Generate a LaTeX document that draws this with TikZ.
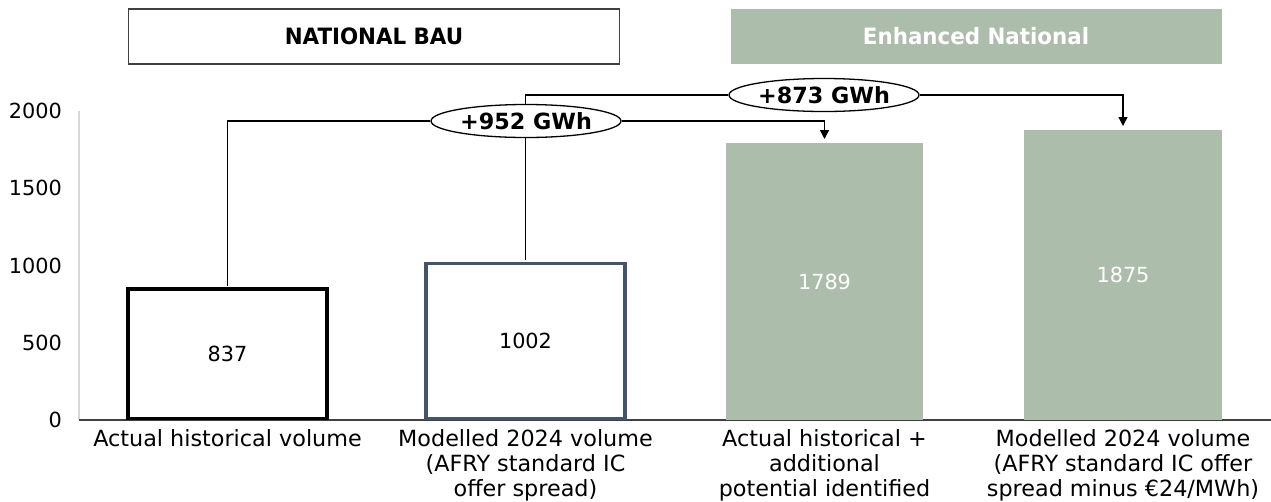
\documentclass[tikz,border=0pt]{standalone}
\usepackage{fontspec}
\setmainfont{DejaVu Sans}
\newfontfamily\headfont{DejaVu Sans}[FakeStretch=0.95]
\usetikzlibrary{shapes.geometric,arrows.meta}

\definecolor{sage}{HTML}{ADBDAC}
\definecolor{slate}{HTML}{44546A}
\definecolor{axisdark}{HTML}{404040}
\definecolor{axislight}{HTML}{D9D9D9}

\tikzset{
  valuefont/.style={font=\fontsize{20.8}{24}\selectfont},
  header/.style={minimum width=491pt, minimum height=55pt, inner sep=0pt,
    font=\headfont\bfseries\fontsize{22.5}{24}\selectfont},
  barbox/.style={anchor=south, minimum width=199pt, inner sep=0pt, valuefont},
  delta/.style={ellipse, draw=black, line width=1.3pt, fill=white,
    minimum width=190pt, minimum height=33pt, inner sep=0pt,
    font=\bfseries\fontsize{22.3}{24}\selectfont},
  conn/.style={draw=black, line width=1.3pt},
  arr/.style={conn, -{Triangle[width=9pt,length=9pt]}},
  catlabel/.style={anchor=north, align=center,
    font=\fontsize{22.3}{24.8}\selectfont},
  ticklabel/.style={anchor=east, inner sep=0pt, valuefont},
}

\begin{document}
\begin{tikzpicture}[x=1pt,y=-1pt]
  \useasboundingbox (0,0) rectangle (1271,501);

  % scenario headers
  \node[header, draw=axisdark, line width=1.5pt] (h1) at (374,36.5) {NATIONAL BAU};
  \node[header, fill=sage, text=white] (h2) at (976,36.5) {Enhanced National};

  % axes
  \draw[axislight, line width=1.2pt] (79,111) -- (79,420);
  \draw[axisdark, line width=1.5pt] (79,420) -- (1271,420);

  % y tick labels
  \foreach \v/\y in {0/420, 500/342.75, 1000/265.5, 1500/188.25, 2000/111}
    \node[ticklabel] (t\v) at (62,\y) {\v};

  % bars (height = value x 0.1545)
  \node[barbox, draw=black, line width=3.5pt, minimum width=199pt, minimum height=129.3pt]
    (b1) at (227.5,420) {837};
  \node[barbox, draw=slate, line width=3.5pt, minimum height=154.8pt]
    (b2) at (525.5,420) {1002};
  \node[barbox, fill=sage, text=white, minimum width=197pt, minimum height=276.4pt]
    (b3) at (824.5,420) {1789};
  \node[barbox, fill=sage, text=white, minimum width=198pt, minimum height=289.7pt]
    (b4) at (1123,420) {1875};

  % category labels
  \node[catlabel] (l1) at (227.5,426.5) {Actual historical volume};
  \node[catlabel] (l2) at (525.5,426.5) {Modelled 2024 volume\\(AFRY standard IC\\offer spread)};
  \node[catlabel] (l3) at (824.5,426.5) {Actual historical +\\additional\\potential identified};
  \node[catlabel] (l4) at (1123,426.5) {Modelled 2024 volume\\(AFRY standard IC offer\\spread minus €24/MWh)};

  % connector end points
  \coordinate (c1) at (227.5,286);
  \coordinate (c2) at (525.5,260);
  \coordinate (a3) at (824.5,139);
  \coordinate (a4) at (1123,126);

  % difference connectors
  \node[delta] (e2) at (824,95) {+873 GWh};
  \draw[conn] (c2) |- (e2.west);
  \draw[arr] (e2.east) -| (a4);
  \node[delta] (e1) at (526,121) {+952 GWh};
  \draw[conn] (c1) |- (e1.west);
  \draw[arr] (e1.east) -| (a3);
\end{tikzpicture}
\end{document}
